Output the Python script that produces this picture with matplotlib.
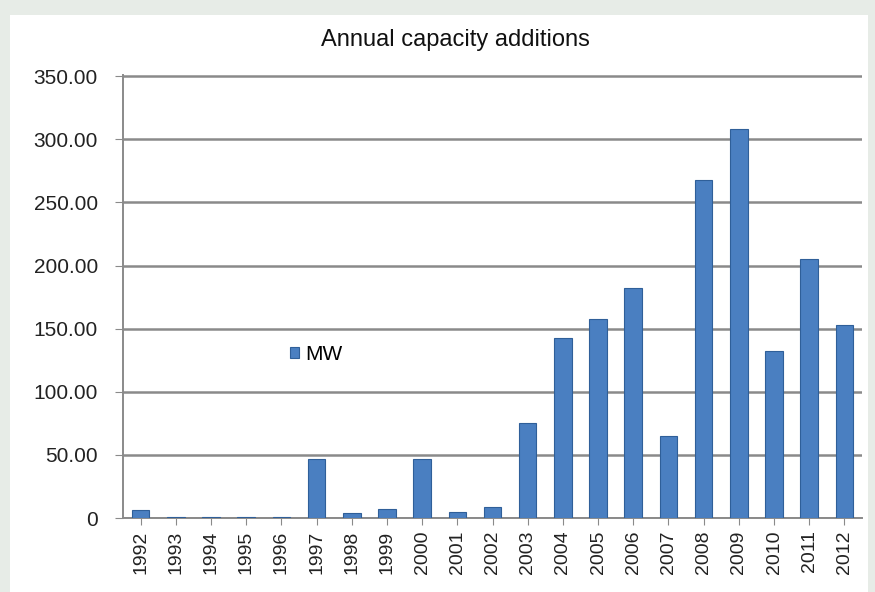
import matplotlib
matplotlib.use('Agg')
from matplotlib import pyplot as plt, patches
import numpy as np

plt.rcParams['font.family'] = ['Liberation Sans', 'DejaVu Sans']

years = [str(y) for y in range(1992, 2013)]
mw = [6, 0.5, 0.5, 0.5, 0.5, 47, 4, 7, 47, 5, 9,
      75, 143, 158, 182, 65, 268, 308, 132, 205, 153]
yticks = [0, 50, 100, 150, 200, 250, 300, 350]

fig = plt.figure(figsize=(8.75, 5.92), dpi=100)
fig.patch.set_facecolor('#e7ece7')
fig.add_artist(patches.Rectangle((10/875, 0), 858/875, 1 - 15/592,
	transform=fig.transFigure, facecolor='white', edgecolor='none', zorder=0))

ax = fig.add_axes([123/875, 1 - 518/592, 739/875, 443/592])
ax.set_facecolor('none')
x = np.arange(len(years))
ax.bar(x, mw, width=0.5, color='#4a7fc1', edgecolor='#2f5f99', linewidth=0.8,
	label='MW', zorder=3)

ax.set_xlim(-0.5, len(years) - 0.5)
ax.set_ylim(0, 351)
ax.set_yticks(yticks)
ax.set_yticklabels(['0' if v == 0 else '%.2f' % v for v in yticks],
	fontsize=15, color='#222222')
ax.set_xticks(x)
ax.set_xticklabels(years, rotation=90, fontsize=14, color='#222222')
ax.yaxis.grid(True, color='#8a8a8a', linewidth=1.8, zorder=1)
for s in ['top', 'right']:
	ax.spines[s].set_visible(False)
ax.spines['left'].set_color('#8a8a8a')
ax.spines['bottom'].set_color('#8a8a8a')
ax.spines['left'].set_linewidth(1.4)
ax.spines['bottom'].set_linewidth(1.4)
ax.tick_params(axis='y', color='#8a8a8a', length=6, pad=12)
ax.tick_params(axis='x', color='#8a8a8a', length=5, pad=4)

fig.text(455/875, 1 - 40/592, 'Annual capacity additions', ha='center',
	va='center', fontsize=17, color='#111111')
ax.legend(loc='center left', bbox_to_anchor=(0.2, 0.37), frameon=False,
	fontsize=15, handlelength=0.45, handleheight=0.45, handletextpad=0.3)

fig.savefig('out.png', dpi=100, facecolor=fig.get_facecolor())
